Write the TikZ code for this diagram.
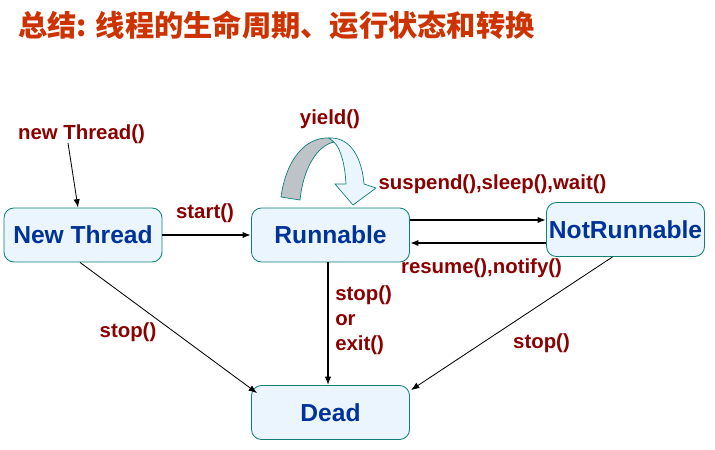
\documentclass[tikz,border=0pt]{standalone}
\usepackage{fontspec}
\setmainfont{Liberation Sans}
\newfontfamily\cjkfont{Noto Sans CJK SC}
\usepackage{xcolor}
\usepackage{tikz}
\usetikzlibrary{shapes}
\usetikzlibrary{arrows.meta}
\usetikzlibrary{calc}
\definecolor{statefill}{HTML}{EAF5FD}
\definecolor{stateline}{HTML}{0F7F7A}
\definecolor{statetext}{HTML}{003399}
\definecolor{calltext}{HTML}{8B0000}
\definecolor{titletext}{HTML}{CC3300}
\definecolor{yieldback}{HTML}{BEC3C7}
\newcommand{\callfont}{\fontsize{14.5}{18}\selectfont\bfseries}

\begin{document}
\begin{tikzpicture}[
  x=0.025cm, y=-0.025cm,
  state/.style={
    rectangle,
    rounded corners=2.5mm,
    draw=stateline,
    line width=0.6pt,
    fill=statefill,
    minimum width=3.95cm,
    minimum height=1.35cm,
    inner sep=0pt,
    text=statetext,
    font=\fontsize{17.5}{20}\selectfont\bfseries},
  call/.style={
    text=calltext,
    inner sep=0pt,
    font=\callfont},
  dep/.style={
    -{Latex[length=6pt,width=4.5pt]},line width=0.6pt
  },
]

  \useasboundingbox (0,0) rectangle (715,449);

  % Title
  \node[anchor=west,text=titletext,inner sep=0pt] (title) at (18,25)
    {\cjkfont\fontsize{20.8}{24}\selectfont\bfseries 总结: 线程的生命周期、运行状态和转换};

  % States
  \node[state] (new) at (83,235) {New Thread};
  \node[state] (run) at (330.5,235) {Runnable};
  \node[state] (notr) at (625.5,229.5) {NotRunnable};
  \node[state] (dead) at (330.5,412.5) {Dead};

  % yield() loop arrow
  \draw[stateline,line width=0.5pt,fill=yieldback]
    (281,197) .. controls (286,160) and (305,137) .. (329,138)
    -- (334,142) .. controls (316,146) and (303,170) .. (300,200) -- cycle;
  \draw[stateline,line width=0.5pt,fill=statefill]
    (329,138) .. controls (352,137) and (362,160) .. (364,184)
    -- (376,188) -- (353,205) -- (335,184) -- (346,184)
    .. controls (345,165) and (341,149) .. (334,142) -- cycle;

  % Labels
  \node[call] (lnew) at (81.5,134) {new Thread()};
  \node[call] (lyield) at (330,119) {yield()};
  \node[call] (lstart) at (205,213) {start()};
  \node[call] (lsusp) at (492.5,184) {suspend(),sleep(),wait()};
  \node[call] (lres) at (481.5,268) {resume(),notify()};
  \node[call] (lstop1) at (128,332) {stop()};
  \node[call,align=left,anchor=north west] (lexit) at (335,285)
    {stop()\\or\\exit()};
  \node[call] (lstop2) at (541.5,343) {stop()};

  % Transitions
  \coordinate (nt) at (68,143);
  \draw[dep] (nt) -- ([shift={(-5,0)}]new.north);
  \draw[dep,line width=1.2pt] (new.east) -- (run.west);

  \coordinate (go) at ([shift={(0,-15)}]run.east);
  \coordinate (back) at ([shift={(0,8)}]run.east);
  \draw[dep,line width=1.2pt] (go) -- (go -| notr.west);
  \draw[dep,line width=1.2pt] (back -| notr.west) -- (back);

  \draw[dep,line width=0.9pt] ([shift={(-2.5,0)}]run.south) -- ([shift={(-2.5,0)}]dead.north);
  \draw[dep] ([shift={(-3,0)}]new.south) -- ([shift={(6,8)}]dead.north west);
  \draw[dep] ([shift={(-13,0)}]notr.south) -- ([shift={(1,5)}]dead.north east);

\end{tikzpicture}
\end{document}
